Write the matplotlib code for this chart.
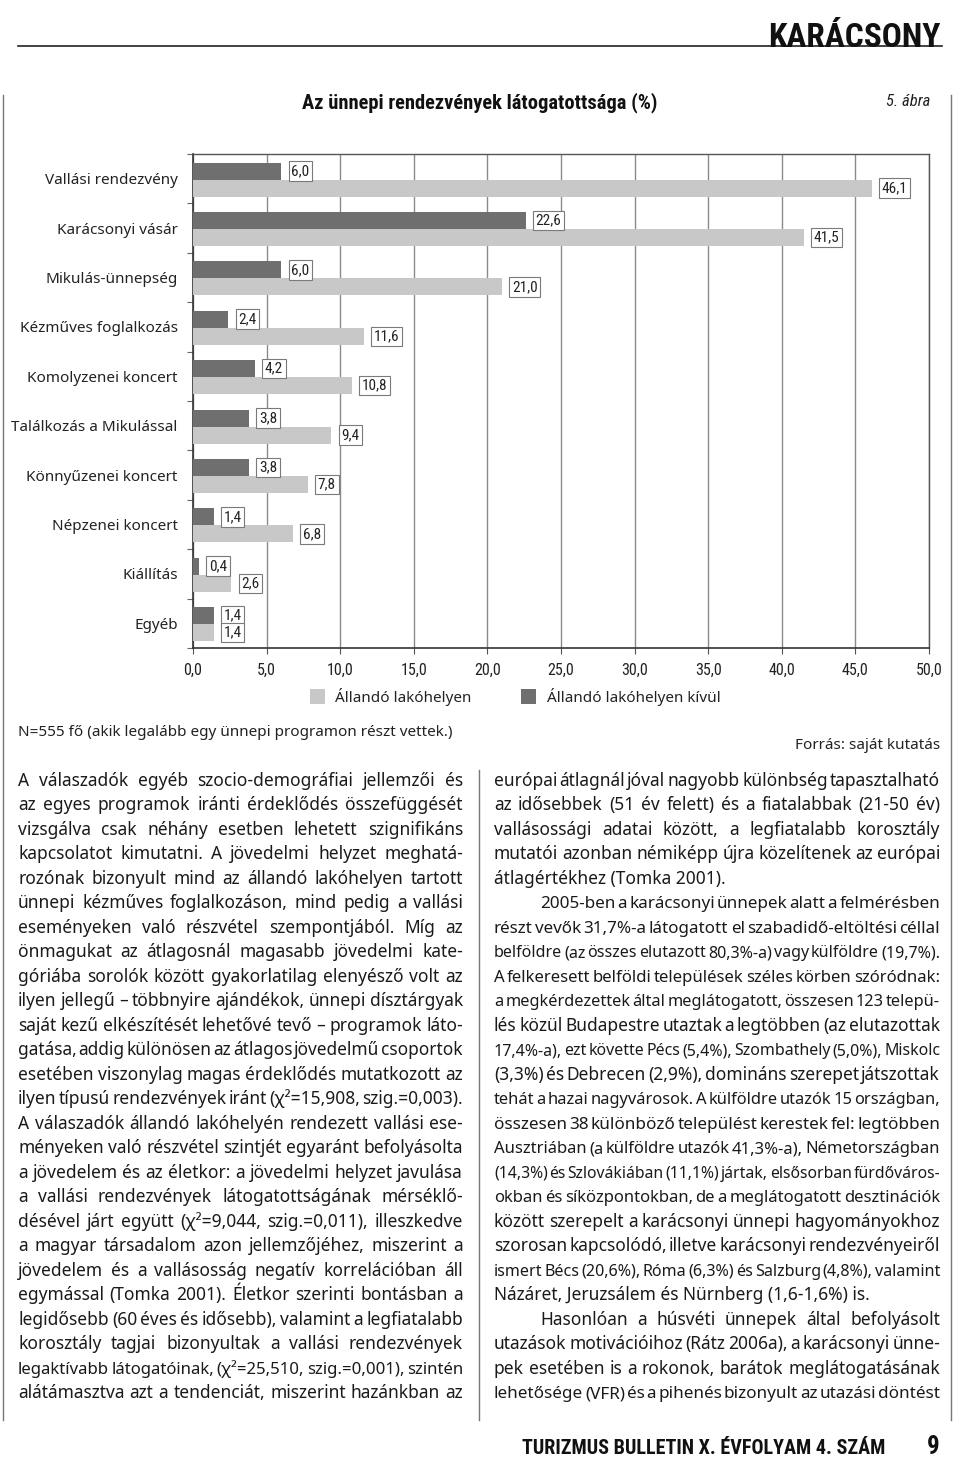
import matplotlib
matplotlib.use("Agg")
import matplotlib.pyplot as plt
from matplotlib.lines import Line2D
from matplotlib import font_manager as fm

# ---------------- data ----------------
categories = ["Vallási rendezvény", "Karácsonyi vásár", "Mikulás-ünnepség",
              "Kézműves foglalkozás", "Komolyzenei koncert", "Találkozás a Mikulással",
              "Könnyűzenei koncert", "Népzenei koncert", "Kiállítás", "Egyéb"]
outside_home = [6.0, 22.6, 6.0, 2.4, 4.2, 3.8, 3.8, 1.4, 0.4, 1.4]      # Állandó lakóhelyen kívül
at_home = [46.1, 41.5, 21.0, 11.6, 10.8, 9.4, 7.8, 6.8, 2.6, 1.4]        # Állandó lakóhelyen
x_ticks = [0, 5, 10, 15, 20, 25, 30, 35, 40, 45, 50]
series_names = ["Állandó lakóhelyen", "Állandó lakóhelyen kívül"]

title = "Az ünnepi rendezvények látogatottsága (%)"
note = "N=555 fő (akik legalább egy ünnepi programon részt vettek.)"
source = "Forrás: saját kutatás"

left_col = [
    "A válaszadók egyéb szocio-demográfiai jellemzői és",
    "az egyes programok iránti érdeklődés összefüggését",
    "vizsgálva csak néhány esetben lehetett szignifikáns",
    "kapcsolatot kimutatni. A jövedelmi helyzet meghatá-",
    "rozónak bizonyult mind az állandó lakóhelyen tartott",
    "ünnepi kézműves foglalkozáson, mind pedig a vallási",
    "eseményeken való részvétel szempontjából. Míg az",
    "önmagukat az átlagosnál magasabb jövedelmi kate-",
    "góriába sorolók között gyakorlatilag elenyésző volt az",
    "ilyen jellegű – többnyire ajándékok, ünnepi dísztárgyak",
    "saját kezű elkészítését lehetővé tevő – programok láto-",
    "gatása, addig különösen az átlagos jövedelmű csoportok",
    "esetében viszonylag magas érdeklődés mutatkozott az",
    "ilyen típusú rendezvények iránt (χ²=15,908, szig.=0,003).",
    "A válaszadók állandó lakóhelyén rendezett vallási ese-",
    "ményeken való részvétel szintjét egyaránt befolyásolta",
    "a jövedelem és az életkor: a jövedelmi helyzet javulása",
    "a vallási rendezvények látogatottságának mérséklő-",
    "désével járt együtt (χ²=9,044, szig.=0,011), illeszkedve",
    "a magyar társadalom azon jellemzőjéhez, miszerint a",
    "jövedelem és a vallásosság negatív korrelációban áll",
    "egymással (Tomka 2001). Életkor szerinti bontásban a",
    "legidősebb (60 éves és idősebb), valamint a legfiatalabb",
    "korosztály tagjai bizonyultak a vallási rendezvények",
    "legaktívabb látogatóinak, (χ²=25,510, szig.=0,001), szintén",
    "alátámasztva azt a tendenciát, miszerint hazánkban az",
]
right_col = [
    "európai átlagnál jóval nagyobb különbség tapasztalható",
    "az idősebbek (51 év felett) és a fiatalabbak (21-50 év)",
    "vallásossági adatai között, a legfiatalabb korosztály",
    "mutatói azonban némiképp újra közelítenek az európai",
    "átlagértékhez (Tomka 2001).",
    "2005-ben a karácsonyi ünnepek alatt a felmérésben",
    "részt vevők 31,7%-a látogatott el szabadidő-eltöltési céllal",
    "belföldre (az összes elutazott 80,3%-a) vagy külföldre (19,7%).",
    "A felkeresett belföldi települések széles körben szóródnak:",
    "a megkérdezettek által meglátogatott, összesen 123 telepü-",
    "lés közül Budapestre utaztak a legtöbben (az elutazottak",
    "17,4%-a), ezt követte Pécs (5,4%), Szombathely (5,0%), Miskolc",
    "(3,3%) és Debrecen (2,9%), domináns szerepet játszottak",
    "tehát a hazai nagyvárosok. A külföldre utazók 15 országban,",
    "összesen 38 különböző települést kerestek fel: legtöbben",
    "Ausztriában (a külföldre utazók 41,3%-a), Németországban",
    "(14,3%) és Szlovákiában (11,1%) jártak, elsősorban fürdőváros-",
    "okban és síközpontokban, de a meglátogatott desztinációk",
    "között szerepelt a karácsonyi ünnepi hagyományokhoz",
    "szorosan kapcsolódó, illetve karácsonyi rendezvényeiről",
    "ismert Bécs (20,6%), Róma (6,3%) és Salzburg (4,8%), valamint",
    "Názáret, Jeruzsálem és Nürnberg (1,6-1,6%) is.",
    "Hasonlóan a húsvéti ünnepek által befolyásolt",
    "utazások motivációihoz (Rátz 2006a), a karácsonyi ünne-",
    "pek esetében is a rokonok, barátok meglátogatásának",
    "lehetősége (VFR) és a pihenés bizonyult az utazási döntést",
]
right_indent = {5, 22}
right_last = {4, 21}

# ---------------- fonts ----------------
installed = {f.name for f in fm.fontManager.ttflist}
def pick(*names):
    for n in names:
        if n in installed:
            return n
    return "DejaVu Sans"
NARROW = pick("Liberation Sans Narrow", "Roboto Condensed", "DejaVu Sans")
BODY = pick("Noto Sans", "Open Sans", "DejaVu Sans")

W, H = 960, 1460
fig = plt.figure(figsize=(W / 100, H / 100), dpi=100)
fig.patch.set_facecolor("white")

def fx(px):
    return px / W

def fy(py):
    return 1 - py / H

# ---------------- page decorations ----------------
fig.add_artist(Line2D([fx(18), fx(942)], [fy(46), fy(46)], color="#222222", lw=1.2))
fig.text(fx(940), fy(47), "KARÁCSONY", ha="right", va="baseline",
         fontsize=24, fontweight="semibold", family=NARROW, color="#111111")
for xx in (3, 951):
    fig.add_artist(Line2D([fx(xx), fx(xx)], [fy(95), fy(1420)], color="#777777", lw=1.0))
fig.add_artist(Line2D([fx(479), fx(479)], [fy(770), fy(1420)], color="#777777", lw=1.0))

fig.text(fx(930), fy(101), "5. ábra", ha="right", va="center", fontsize=12,
         style="italic", family=NARROW, color="#222222")
fig.text(fx(480), fy(103), title, ha="center", va="center", fontsize=14.8,
         fontweight="semibold", family=NARROW, color="#111111")

# ---------------- chart ----------------
ax = fig.add_axes([fx(193), fy(648), fx(929) - fx(193), (648 - 154) / H])
ypos = list(range(len(categories)))
dark_c = "#6f6f6f"
light_c = "#c8c8c8"
bh = 0.345
b_dark = ax.barh([y - 0.155 for y in ypos], outside_home, height=bh, color=dark_c,
                 label=series_names[1], zorder=3)
b_light = ax.barh([y + 0.19 for y in ypos], at_home, height=bh, color=light_c,
                  label=series_names[0], zorder=3)

def fmt(v):
    return f"{v:.1f}".replace(".", ",")

box = dict(boxstyle="square,pad=0.18", fc="white", ec="#7a7a7a", lw=0.8)
for bars, vals in ((b_dark, outside_home), (b_light, at_home)):
    for rect, v in zip(bars, vals):
        yc = rect.get_y() + rect.get_height() / 2
        ax.annotate(fmt(v), xy=(v, yc), xytext=(10, 0), textcoords="offset pixels",
                    ha="left", va="center", fontsize=11, family=NARROW,
                    color="#222222", bbox=box, zorder=5)

ax.set_xlim(0, 50)
ax.set_ylim(len(categories) - 0.5, -0.5)
ax.set_xticks(x_ticks)
ax.set_xticklabels([fmt(v) for v in x_ticks], fontsize=11.5, family=NARROW, color="#222222")
ax.tick_params(axis="x", direction="out", length=4, width=0.8, color="#555555", pad=7)
ax.set_yticks([y - 0.5 for y in ypos] + [len(categories) - 0.5])
ax.set_yticklabels([])
ax.tick_params(axis="y", which="major", direction="out", length=4, width=0.8, color="#666666")
ax.set_yticks(ypos, minor=True)
ax.set_yticklabels(categories, minor=True, fontsize=11, family=BODY, color="#222222")
ax.tick_params(axis="y", which="minor", length=0, pad=11)
ax.grid(axis="x", color="#8a8a8a", lw=1.0, zorder=1)
ax.set_axisbelow(True)
for s in ("top", "right"):
    ax.spines[s].set_color("#555555")
    ax.spines[s].set_linewidth(1.0)
for s in ("left", "bottom"):
    ax.spines[s].set_color("#333333")
    ax.spines[s].set_linewidth(1.2)

fig.legend(handles=[b_light, b_dark], labels=series_names, loc="center",
           bbox_to_anchor=(fx(515), fy(697)), ncol=2, frameon=False,
           prop={"family": BODY, "size": 11}, handlelength=1.0, handleheight=1.1,
           handletextpad=0.7, columnspacing=3.2, labelcolor="#222222")

fig.text(fx(18), fy(733), note, ha="left", va="center", fontsize=11, family=BODY, color="#222222")
fig.text(fx(940), fy(746), source, ha="right", va="center", fontsize=11, family=BODY, color="#222222")

# ---------------- body text (justified) ----------------
renderer = fig.canvas.get_renderer()
BODY_FS = 12.5

def word_width(word, fs):
    t = fig.text(0, 0, word, fontsize=fs, family=BODY)
    w = t.get_window_extent(renderer).width
    t.remove()
    return w

def draw_column(lines, x0, x1, y0, dy, indents=(), lasts=(), indent_px=46):
    for i, line in enumerate(lines):
        xs = x0 + (indent_px if i in indents else 0)
        yb = y0 + i * dy + 5.5   # baseline
        words = line.split(" ")
        fs = BODY_FS
        widths = [word_width(w, fs) for w in words]
        space = word_width("a a", fs) - 2 * word_width("a", fs)
        avail = x1 - xs
        total = sum(widths)
        if i in lasts:
            if total + space * (len(words) - 1) > avail:
                fs *= avail / (total + space * (len(words) - 1))
            fig.text(fx(xs), fy(yb), line, fontsize=fs, family=BODY, ha="left",
                     va="baseline", color="#1a1a1a")
            continue
        min_needed = total + 0.45 * space * (len(words) - 1)
        if min_needed > avail:
            fs *= avail / min_needed
            widths = [word_width(w, fs) for w in words]
            total = sum(widths)
        gap = (avail - total) / max(len(words) - 1, 1)
        cx = xs
        for w, ww in zip(words, widths):
            fig.text(fx(cx), fy(yb), w, fontsize=fs, family=BODY, ha="left",
                     va="baseline", color="#1a1a1a")
            cx += ww + gap

draw_column(left_col, 18, 463, 780, 24.52)
draw_column(right_col, 494, 940, 780, 24.52, indents=right_indent, lasts=right_last)

# ---------------- footer ----------------
fig.text(fx(885), fy(1454), "TURIZMUS BULLETIN X. ÉVFOLYAM 4. SZÁM", ha="right",
         va="baseline", fontsize=14.5, fontweight="bold", family=NARROW, color="#111111")
fig.text(fx(940), fy(1454), "9", ha="right", va="baseline", fontsize=18,
         fontweight="bold", family=NARROW, color="#111111")

fig.savefig("out.png", dpi=100, facecolor="white")
